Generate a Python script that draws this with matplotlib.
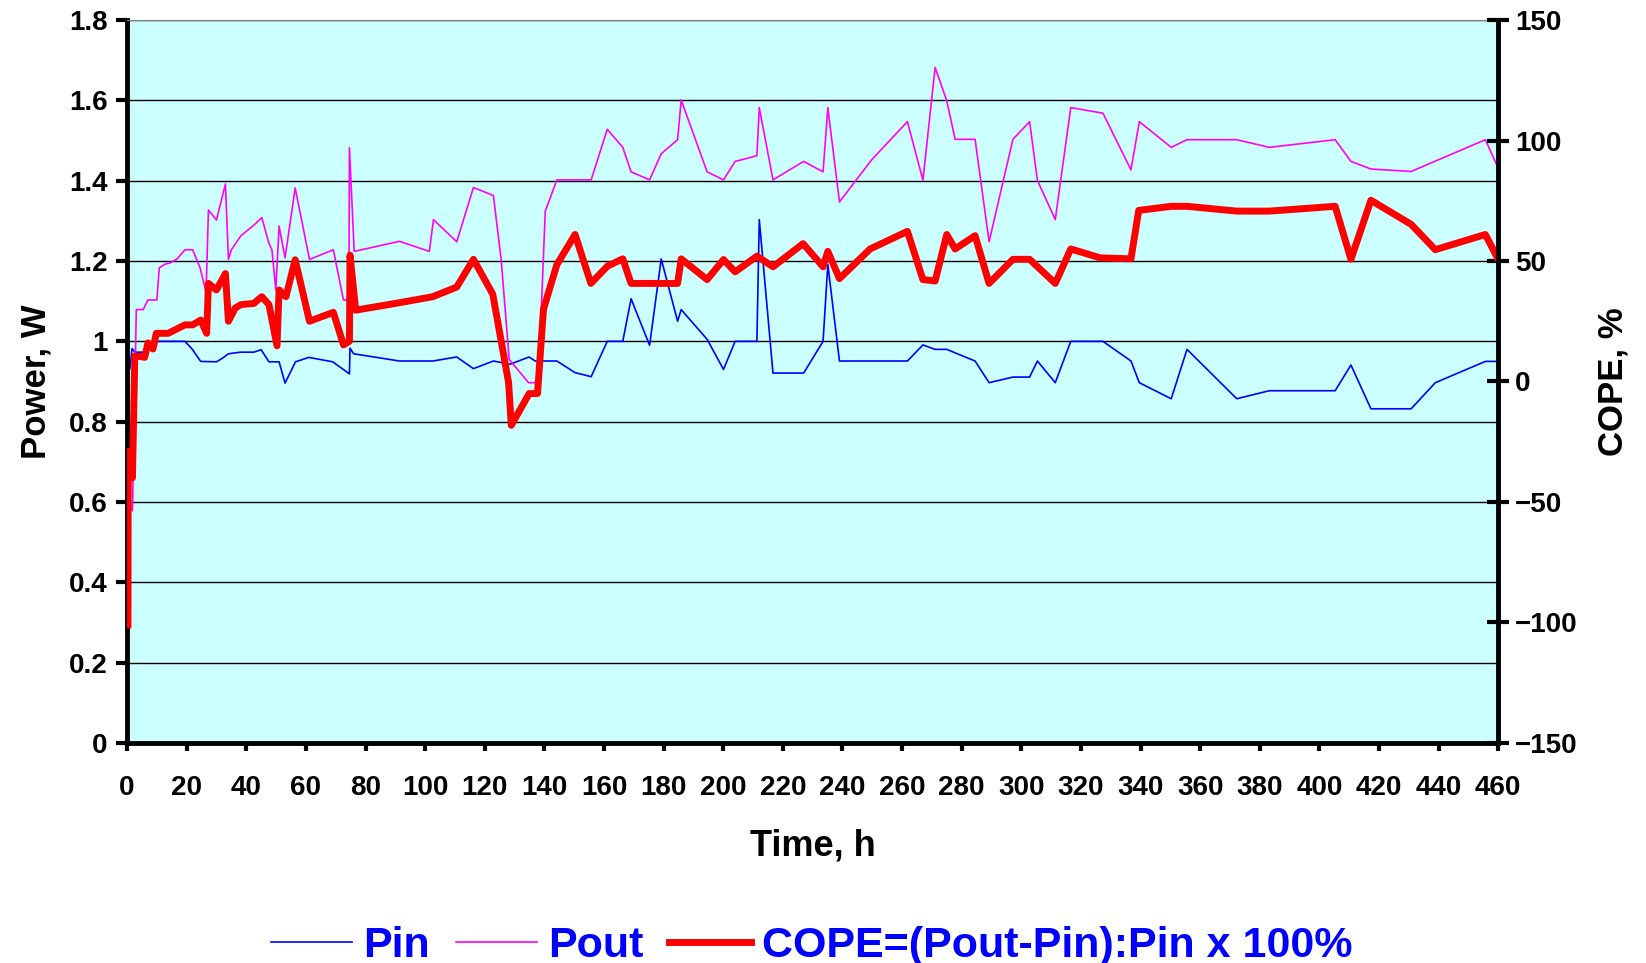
import matplotlib
matplotlib.use("Agg")
import matplotlib.pyplot as plt
from matplotlib.ticker import FuncFormatter

plt.rcParams['font.family'] = ['Liberation Sans', 'DejaVu Sans']
plt.rcParams['font.weight'] = 'bold'

# Pin, W
t_pin = [0, 0.9, 1.7, 2.6, 5.9, 7.6, 8.7, 19.4, 21.8, 24.7, 30, 32, 34, 38, 42.5, 45, 47.6, 51, 53,
         56.5, 61, 69, 74.6, 74.8, 76, 91.4, 102.6, 110.6, 116.2, 122.9, 128.5, 134.9, 136.9, 144.2,
         150.3, 155.7, 161.1, 166.3, 169.1, 175.3, 179.2, 184.7, 185.9, 194.6, 200.1, 204, 211.3,
         212.1, 216.7, 227, 233.5, 235.1, 239, 261.8, 267, 271.1, 275, 278.9, 284.5, 289.2, 297.2,
         302.8, 305.4, 311.4, 316.6, 327.4, 336.8, 339.6, 350.3, 355.6, 372.3, 383.2, 405.3, 410.6,
         417.3, 430.8, 438.9, 455.7, 460]
pin = [0.923, 0.931, 0.982, 0.973, 0.973, 0.989, 1.0, 1.0, 0.981, 0.95, 0.949, 0.958, 0.969, 0.973,
       0.973, 0.979, 0.949, 0.949, 0.896, 0.949, 0.96, 0.949, 0.919, 0.983, 0.969, 0.951, 0.951,
       0.961, 0.932, 0.951, 0.943, 0.961, 0.951, 0.951, 0.922, 0.912, 1.0, 1.0, 1.106, 0.99, 1.205,
       1.05, 1.079, 1.005, 0.930, 1.0, 1.0, 1.303, 0.921, 0.921, 1.0, 1.191, 0.951, 0.951, 0.991,
       0.980, 0.980, 0.968, 0.951, 0.897, 0.911, 0.911, 0.951, 0.897, 1.0, 1.0, 0.951, 0.897, 0.857,
       0.980, 0.857, 0.877, 0.877, 0.941, 0.832, 0.832, 0.897, 0.950, 0.950]

# Pout, W
t_pout = [0, 0.1, 1.8, 3.1, 5.4, 7.0, 10.0, 10.8, 12.7, 14.4, 16.9, 19.4, 22, 24.5, 26.5, 27.3, 30,
          33, 34, 35, 38.2, 42.5, 45.2, 47.6, 48.6, 49.9, 51, 53, 56.4, 61.2, 69.2, 72.6, 74.4, 74.6,
          76.2, 91.4, 101.4, 102.8, 110.6, 116.2, 122.9, 125.5, 128.2, 134.7, 136.3, 138, 140.3,
          144.2, 155.7, 161.1, 166.3, 169.1, 175.3, 179.2, 184.7, 185.9, 194.6, 200.1, 204, 211.3,
          212.1, 216.7, 227, 233.5, 235.1, 239, 249.8, 261.8, 267, 271.1, 275, 277.8, 284.5, 289.2,
          297.2, 302.8, 305.4, 311.4, 316.6, 327.4, 336.8, 339.6, 350.3, 355.6, 372.3, 383.2, 405.3,
          410.6, 417.3, 430.8, 455.7, 460]
pout = [0.0, 0.62, 0.578, 1.079, 1.079, 1.103, 1.103, 1.183, 1.192, 1.195, 1.206, 1.228, 1.228,
        1.183, 1.122, 1.327, 1.302, 1.392, 1.204, 1.228, 1.263, 1.289, 1.308, 1.244, 1.228, 1.128,
        1.287, 1.208, 1.382, 1.204, 1.228, 1.103, 1.103, 1.482, 1.224, 1.249, 1.224, 1.303, 1.248,
        1.383, 1.363, 1.204, 0.955, 0.897, 0.897, 0.90, 1.324, 1.402, 1.402, 1.528, 1.483, 1.422,
        1.402, 1.467, 1.502, 1.601, 1.422, 1.402, 1.448, 1.462, 1.582, 1.402, 1.448, 1.422, 1.582,
        1.347, 1.452, 1.547, 1.401, 1.682, 1.599, 1.503, 1.503, 1.248, 1.503, 1.547, 1.401, 1.303,
        1.582, 1.568, 1.427, 1.547, 1.483, 1.502, 1.502, 1.483, 1.502, 1.448, 1.429, 1.423, 1.502,
        1.431]

# COPE, %
t_cope = [0.3, 0.4, 1.8, 2.6, 4.3, 5.9, 7.0, 8.7, 9.8, 13.8, 19.4, 22, 24.7, 26.7, 27.3, 30, 33, 34,
          36.3, 38.2, 42.5, 45.2, 47.6, 50.3, 51, 53.3, 56.4, 61.2, 69.2, 72.6, 74.6, 74.8, 76.7,
          91.4, 102.6, 110.6, 116.2, 122.7, 128, 128.9, 134.9, 137.7, 139.7, 144.2, 150.3, 155.6,
          161.2, 166.3, 169.1, 184.7, 185.9, 194.6, 200.1, 204, 211.3, 216.7, 226.8, 233.5, 235.1,
          239, 249.3, 261.8, 267, 271.1, 275, 277.8, 284.5, 289.2, 297.2, 302.8, 311.4, 316.6,
          326.5, 336.8, 339.4, 350.3, 355.6, 372.3, 383.2, 405.3, 410.6, 417.3, 430.8, 438.9,
          455.7, 460]
cope = [-101, -29, -40, 10.5, 10.4, 10, 16, 13.5, 20, 20, 23.5, 23.5, 25.5, 20, 40.7, 38, 44.8, 25,
        30.5, 31.9, 32.4, 35.2, 31.9, 14.8, 38, 35.2, 50.5, 25, 28.7, 15.2, 16.7, 52.4, 29.6, 32.7,
        35.2, 39.2, 50.7, 36.2, -0.5, -18.2, -5, -5, 30, 48.5, 61, 40.7, 47.9, 50.9, 40.7, 40.7,
        50.9, 42.3, 50.6, 45.5, 52, 47.6, 57.2, 47.6, 54, 42.7, 55, 62.3, 42.3, 41.7, 61, 55, 60.5,
        40.7, 50.7, 50.7, 40.7, 55, 51.3, 50.9, 71, 72.7, 72.7, 70.7, 70.7, 72.7, 50.7, 75.2, 65.2,
        54.7, 61, 50.7]

x_ticks = list(range(0, 461, 20))
left_ticks = [0, 0.2, 0.4, 0.6, 0.8, 1.0, 1.2, 1.4, 1.6, 1.8]
right_ticks = [-150, -100, -50, 0, 50, 100, 150]

fig = plt.figure(figsize=(16.46, 9.63), dpi=100)
ax = fig.add_axes([0.0772, 0.2285, 0.833, 0.7507])
ax.set_facecolor("#CCFFFF")

l_pin, = ax.plot(t_pin, pin, color="#0000FF", lw=1.2, label="Pin")
l_pout, = ax.plot(t_pout, pout, color="#FF00FF", lw=1.2, label="Pout")

ax.set_xlim(0, 460)
ax.set_ylim(0, 1.8)
ax.set_xticks(x_ticks)
ax.set_yticks(left_ticks)
ax.yaxis.set_major_formatter(FuncFormatter(lambda v, p: "%g" % v))
ax.yaxis.grid(True, color="black", lw=1.0)
ax.set_axisbelow(True)

for s in ["left", "bottom"]:
    ax.spines[s].set_linewidth(3.5)
ax.spines["top"].set_linewidth(0.8)
ax.spines["top"].set_color("#808080")
ax.spines["right"].set_visible(False)

ax.tick_params(axis="both", labelsize=20, width=3, direction="out")
ax.tick_params(axis="y", length=8, pad=6)
ax.tick_params(axis="x", length=6, pad=17)

ax.set_xlabel("Time, h", fontsize=26, fontweight="bold", labelpad=20)
ax.set_ylabel("Power, W", fontsize=25, fontweight="bold", labelpad=12)

ax2 = ax.twinx()
l_cope, = ax2.plot(t_cope, cope, color="#FF0000", lw=5, solid_joinstyle="round",
                   label="COPE=(Pout-Pin):Pin x 100%")
ax2.set_ylim(-150, 150)
ax2.set_yticks(right_ticks)
ax2.spines["right"].set_linewidth(3.5)
for s in ["left", "top", "bottom"]:
    ax2.spines[s].set_visible(False)
ax2.tick_params(axis="y", labelsize=20, width=3, length=16, direction="inout", pad=4)
ax2.set_ylabel("COPE, %", fontsize=25, fontweight="bold", labelpad=14)

leg = fig.legend(handles=[l_pin, l_pout, l_cope], loc="center", bbox_to_anchor=(0.493, 0.018),
                 ncol=3, frameon=False, fontsize=31, handlelength=1.9, handletextpad=0.25,
                 columnspacing=0.6)
for txt in leg.get_texts():
    txt.set_color("#0000FF")
    txt.set_fontweight("bold")

fig.savefig("out.png", dpi=100)
